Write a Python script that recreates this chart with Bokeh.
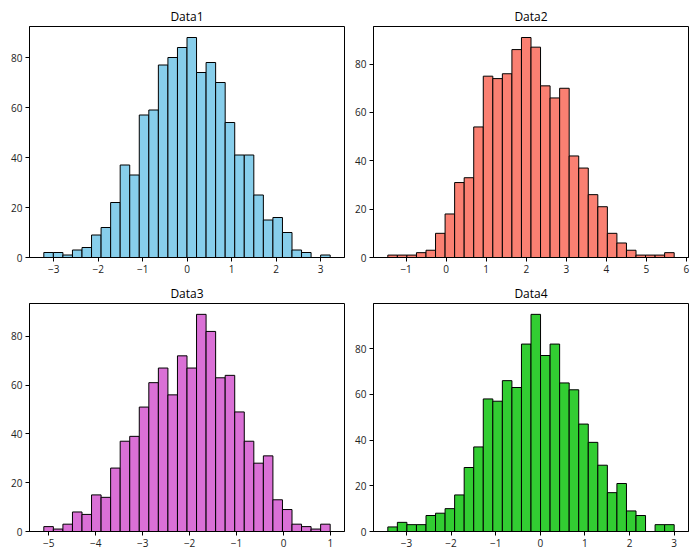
import numpy as np
from bokeh.plotting import figure
from bokeh.layouts import gridplot
from bokeh.models import Range1d, FixedTicker
from bokeh.embed import file_html
from bokeh.resources import INLINE

titles = ["Data1", "Data2", "Data3", "Data4"]
colors = ["#87CEEB", "#FA8072", "#DA70D6", "#32CD32"]

# bin ranges (first left edge, last right edge) and counts, 30 bins each
bin_lo = [-3.224, -1.457, -5.106, -3.418]
bin_hi = [3.218, 5.694, 0.994, 3.0]

counts1 = [2, 2, 1, 3, 4, 9, 12, 22, 37, 33, 57, 59, 77, 80, 84, 88, 74, 78, 70, 54,
           41, 41, 25, 15, 16, 10, 3, 2, 0, 1]
counts2 = [1, 1, 1, 2, 3, 10, 18, 31, 33, 54, 75, 74, 76, 86, 91, 87, 71, 66, 70, 42,
           37, 26, 21, 10, 6, 3, 1, 1, 1, 2]
counts3 = [2, 1, 3, 8, 7, 15, 14, 26, 37, 39, 51, 61, 67, 56, 72, 67, 89, 82, 63, 64,
           49, 37, 28, 31, 13, 9, 3, 2, 1, 3]
counts4 = [2, 4, 3, 3, 7, 8, 10, 16, 28, 37, 58, 57, 66, 63, 82, 95, 77, 82, 65, 62,
           47, 39, 29, 17, 21, 9, 7, 0, 3, 3]
all_counts = [counts1, counts2, counts3, counts4]

x_ticks = [[-3, -2, -1, 0, 1, 2, 3],
           [-1, 0, 1, 2, 3, 4, 5, 6],
           [-5, -4, -3, -2, -1, 0, 1],
           [-3, -2, -1, 0, 1, 2, 3]]
y_ticks = [0, 20, 40, 60, 80]

FONT = "Open Sans"

# layout (pixels)
frame_w = 315
borders = [  # (left, right, top, bottom, frame_h)
    (29, 6, 26, 23, 231),
    (23, 12, 26, 23, 231),
    (29, 6, 22, 29, 229),
    (23, 12, 22, 29, 229),
]

figs = []
for i in range(4):
    bl, br, bt, bb, fh = borders[i]
    counts = np.array(all_counts[i])
    edges = np.linspace(bin_lo[i], bin_hi[i], len(counts) + 1)
    span = bin_hi[i] - bin_lo[i]
    ymax = counts.max() * 1.05
    p = figure(width=frame_w + bl + br, height=fh + bt + bb,
               output_backend="svg", toolbar_location=None,
               x_range=Range1d(bin_lo[i] - 0.05 * span, bin_hi[i] + 0.05 * span),
               y_range=Range1d(0, ymax),
               min_border_left=bl, min_border_right=br,
               min_border_top=bt, min_border_bottom=bb,
               title=titles[i])
    p.quad(left=edges[:-1], right=edges[1:], bottom=0, top=counts,
           fill_color=colors[i], line_color="black", line_width=1)
    p.title.align = "center"
    p.title.text_font = FONT
    p.title.text_font_size = "12px"
    p.title.text_font_style = "normal"
    p.title.text_color = "black"
    p.title.offset = 0
    p.title.standoff = 4
    p.xgrid.visible = False
    p.ygrid.visible = False
    p.outline_line_color = "black"
    p.outline_line_alpha = 1
    p.outline_line_width = 1
    p.background_fill_color = "white"
    p.border_fill_color = "white"
    p.xaxis.ticker = FixedTicker(ticks=x_ticks[i])
    p.yaxis.ticker = FixedTicker(ticks=y_ticks)
    for ax in (p.xaxis[0], p.yaxis[0]):
        ax.axis_line_color = "black"
        ax.major_tick_line_color = "black"
        ax.major_tick_in = 0
        ax.major_tick_out = 4
        ax.minor_tick_line_color = None
        ax.major_label_standoff = 3
        ax.major_label_text_font = FONT
        ax.major_label_text_font_size = "10px"
        ax.major_label_text_color = "#222222"
    figs.append(p)

grid = gridplot([[figs[0], figs[1]], [figs[2], figs[3]]], toolbar_location=None)

open("out.html", "w").write(file_html(grid, INLINE))
